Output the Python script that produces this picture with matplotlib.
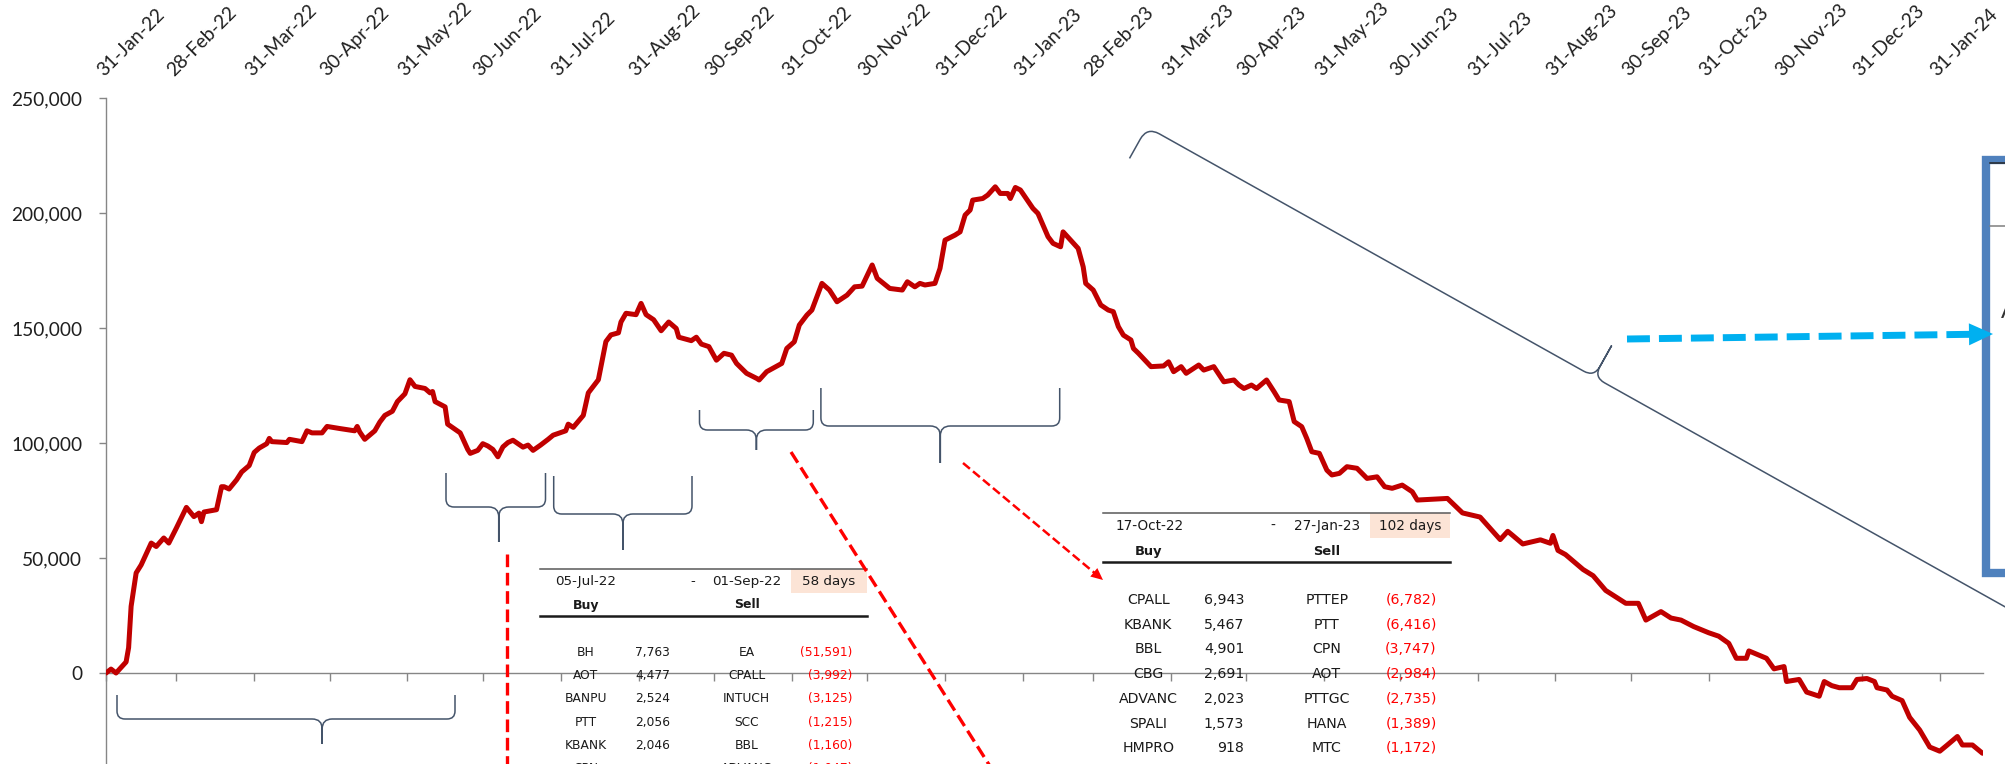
import numpy as np
import pandas as pd
import matplotlib
matplotlib.use('Agg')
import matplotlib.pyplot as plt
import matplotlib.dates as mdates
from matplotlib.path import Path
from matplotlib.patches import PathPatch, Rectangle, Polygon
from matplotlib.lines import Line2D
from matplotlib.transforms import Affine2D
from matplotlib.ticker import FixedLocator, FuncFormatter

# cumulative net flow: days after 31-Jan-22 and value (thousands)
start_date = pd.Timestamp('2022-01-31')
day_offsets = [
    0, 2, 4, 8, 9, 10, 12, 14, 18, 20, 23, 25, 28, 32, 35, 37, 38, 39, 44, 46, 47, 49, 52,
    54, 57, 59, 61, 64, 65, 66, 72, 73, 78, 80, 82, 86, 88, 93, 99, 100, 101, 103, 107, 109,
    111, 114, 116, 119, 121, 123, 127, 129, 130, 131, 135, 136, 141, 144, 145, 148, 150, 152,
    154, 156, 158, 160, 162, 166, 168, 170, 173, 176, 178, 183, 184, 186, 190, 192, 196, 199,
    201, 204, 205, 207, 211, 213, 215, 218, 221, 224, 227, 228, 233, 235,
    237, 240, 243, 246, 249, 251, 255, 259, 260, 263, 269, 271, 274, 276, 279, 281, 283, 285,
    288, 291, 295, 298, 301, 305, 307, 312, 317, 319, 322, 324, 326, 330, 332, 334, 338, 340,
    342, 344, 345, 349, 351, 354, 356, 359, 360, 362, 364, 369, 371, 375, 377, 380, 381, 384,
    387, 389, 390, 393, 396, 399, 401, 403, 405, 408, 409, 411, 416, 421, 423, 425, 428, 430,
    435, 437, 441, 445, 449, 451, 453, 456, 458, 462, 465, 467, 471, 473, 476, 478, 480, 483,
    486, 488, 491, 494, 498, 502, 506, 509, 512, 516, 520, 522, 534, 540, 547, 555,
    558, 560, 564, 571, 575, 576, 578, 581, 585, 588, 592, 597, 601, 605, 610, 613, 619, 623,
    627, 632, 638, 642, 646, 649, 653, 654, 661, 664, 668, 669, 674, 677, 682, 684, 687, 690,
    695, 697, 701, 704, 705, 709, 711, 715, 718, 722, 726, 730, 733, 737, 739, 743, 747]
net_flow_k = [
    0, 1.7, 0, 4.8, 11, 29, 43.5, 47, 56.5, 55, 58.7, 56.5, 63, 72, 68, 69.5, 65.8, 70, 71, 81, 81, 80, 84,
    87.4, 90.2, 95.9, 97.8, 99.7, 102, 100.6, 100.2, 101.6, 100.6, 105.3, 104.4, 104.4, 107.2, 106.3,
    105.3, 107.2, 104.8, 101.6, 105.3, 109.1, 112, 113.8, 118, 121.4, 127.5, 124.6, 123.7, 121.8, 122.4,
    118, 115.7, 108.2, 104.4, 97.2, 95.5, 96.8, 99.7, 98.7, 97.2, 94, 98.3, 100.2, 101.2, 98.2, 99.1,
    96.8, 99.1, 101.6, 103.4, 105.3, 108.2, 106.8, 112, 121.8, 127.5, 144.1, 147, 147.9, 152.6, 156.4,
    155.8, 160.7, 155.8, 153.6, 148.8, 152.6, 149.8, 146, 144.5, 146,
    143, 141.9, 136, 139, 138.2, 134.6, 130.3, 128.1, 127.4, 131, 134.6, 141.1, 144, 151.3, 155.6,
    157.8, 163.6, 169.4, 166.5, 161.4, 164.3, 167.9, 168.2, 177.4, 171.6, 167.2, 166.5, 170.1, 167.9,
    169.4, 168.7, 169.4, 175.9, 188.2, 190.4, 191.8, 199.1, 201.3, 205.6, 206.3, 207.8, 211.4, 208.5,
    208.5, 206.3, 211.1, 210, 202, 199.8, 189.7, 186.8, 185.3, 191.8, 188.2, 184.6, 176.6, 169.4,
    166.5, 160, 157.8, 157.1, 150.6, 146.9, 144.8, 141.1, 139, 133.2, 133.5, 135.3, 131, 133.2, 130.3,
    133.9, 131.7, 133.2, 126.6, 127.4, 125.2, 123.7, 125.2, 123.7, 127.4, 122.3, 118.7, 118, 109.3,
    107.1, 102, 96.2, 95.5, 88.2, 86.1, 86.8, 89.7, 89, 84.6, 85.3, 81, 80.3, 81.7, 78.8, 75.2, 75.9,
    69.6, 67.8, 58,
    61.6, 59.8, 56.1, 57.9, 56.4, 59.8, 53.3, 51.5, 47.8, 45, 42.3, 35.9, 33.1, 30.3, 30.3, 23, 26.7,
    23.9, 23, 20.2, 17.5, 16, 12.9, 6.4, 6.4, 9.6, 6.4, 1.8, 2.8, -3.7, -2.8, -8.3, -10.1, -3.7, -5.5,
    -6.4, -6.4, -2.8, -2.4, -3.7, -6.4, -7.4, -10.1, -12, -19.3, -24.8, -32.2, -34, -31.3, -27.6,
    -31.3, -31.3, -34.9]
month_ends = pd.date_range('2022-01-31', '2024-01-31', freq='ME')
y_ticks = [0, 50000, 100000, 150000, 200000, 250000]

# the two buy / sell tables
t1_period = ['05-Jul-22', '-', '01-Sep-22', '58 days']
t1_buy = ['BH', 'AOT', 'BANPU', 'PTT', 'KBANK', 'CPN']
t1_buy_val = [7763, 4477, 2524, 2056, 2046, None]
t1_sell = ['EA', 'CPALL', 'INTUCH', 'SCC', 'BBL', 'ADVANC']
t1_sell_val = [-51591, -3992, -3125, -1215, -1160, -1047]

t2_period = ['17-Oct-22', '-', '27-Jan-23', '102 days']
t2_buy = ['CPALL', 'KBANK', 'BBL', 'CBG', 'ADVANC', 'SPALI', 'HMPRO']
t2_buy_val = [6943, 5467, 4901, 2691, 2023, 1573, 918]
t2_sell = ['PTTEP', 'PTT', 'CPN', 'AOT', 'PTTGC', 'HANA', 'MTC']
t2_sell_val = [-6782, -6416, -3747, -2984, -2735, -1389, -1172]

plt.rcParams['font.family'] = ['Lato', 'DejaVu Sans']
axis_gray = '#868686'
brace_color = '#44546A'

W, H = 2005, 764
fig = plt.figure(figsize=(W / 100, H / 100), dpi=100)
ax = fig.add_axes([106 / W, 0, (1983 - 106) / W, (H - 98) / H])
# pixel coords of the picture (y down) for the hand placed shapes
pix = Affine2D().scale(1 / W, -1 / H).translate(0, 1) + fig.transFigure

dates = start_date + pd.to_timedelta(day_offsets, unit='D')
ax.plot(mdates.date2num(dates), np.array(net_flow_k) * 1000, color='#C00000', lw=3.6,
        solid_joinstyle='round', solid_capstyle='round', zorder=5)

for s in ['top', 'right']:
    ax.spines[s].set_visible(False)
ax.spines['bottom'].set_position(('data', 0))
for s in ['bottom', 'left']:
    ax.spines[s].set_color(axis_gray)
    ax.spines[s].set_linewidth(1)

ax.xaxis.set_major_locator(FixedLocator(mdates.date2num(month_ends)))
ax.xaxis.set_major_formatter(mdates.DateFormatter('%d-%b-%y'))
ax.tick_params(axis='x', bottom=True, top=False, labelbottom=False, labeltop=True,
               direction='out', length=5.5, width=1, color=axis_gray, pad=8,
               labelsize=13.8, labelcolor='#1f1f1f', labelrotation=45)
for lab in ax.get_xticklabels():
    lab.set_ha('left')
    lab.set_va('bottom')
    lab.set_rotation_mode('anchor')

ax.set_yticks(y_ticks)
ax.yaxis.set_major_formatter(FuncFormatter(lambda v, p: f'{v:,.0f}'))
ax.tick_params(axis='y', direction='out', length=5, width=1, color=axis_gray, pad=12,
               labelsize=13.8, labelcolor='#1f1f1f')

x0 = mdates.date2num(start_date)
ax.set_xlim(x0, x0 + 747.2)
ax.set_ylim(-39565, 250000)


def brace(p0, p1, depth, tip, frac=0.5, side=1, r=8, rt=10):
    p0 = np.asarray(p0, float)
    p1 = np.asarray(p1, float)
    L = np.hypot(*(p1 - p0))
    t = (p1 - p0) / L
    n = side * np.array([-t[1], t[0]])
    a = p0 + n * depth
    b = p1 + n * depth
    m = p0 + t * L * frac + n * depth
    verts = [p0, p0 + n * (depth - r), a, a + t * r,
             m - t * rt, m, m + n * rt, m + n * tip,
             m + n * rt, m, m + t * rt,
             b - t * r, b, p1 + n * (depth - r), p1]
    codes = [Path.MOVETO, Path.LINETO, Path.CURVE3, Path.CURVE3,
             Path.LINETO, Path.CURVE3, Path.CURVE3, Path.LINETO,
             Path.LINETO, Path.CURVE3, Path.CURVE3,
             Path.LINETO, Path.CURVE3, Path.CURVE3, Path.LINETO]
    ax.add_patch(PathPatch(Path(verts, codes), fill=False, ec=brace_color, lw=1.1,
                           transform=pix, clip_on=False, zorder=4))


brace((117, 695), (455, 695), 24, 25, frac=0.607)
brace((446, 473), (545.5, 473), 34, 35, frac=0.53)
brace((553.7, 476), (692, 476), 38, 36)
brace((699.5, 410), (813.3, 410), 20, 20)
brace((820.9, 388), (1059.7, 388), 38, 37)
brace((1129.5, 158.4), (2023.5, 658.4), 36, 36, side=-1, r=14, rt=12)


def dashed(p0, p1, color, lw, dash, head=None):
    p0 = np.asarray(p0, float)
    p1 = np.asarray(p1, float)
    end = p1
    if head is not None:
        hl, hw = head
        u = (p1 - p0) / np.hypot(*(p1 - p0))
        v = np.array([-u[1], u[0]])
        end = p1 - u * hl * 0.8
        base = p1 - u * hl
        ax.add_patch(Polygon([p1, base + v * hw / 2, base - v * hw / 2], closed=True,
                             fc=color, ec='none', transform=pix, clip_on=False, zorder=7))
    ax.add_line(Line2D([p0[0], end[0]], [p0[1], end[1]], color=color, lw=lw,
                       linestyle=(0, dash), dash_capstyle='butt', transform=pix,
                       clip_on=False, zorder=6))


# right hand call-out box (cut by the picture edge)
ax.add_patch(Rectangle((1986, 160), 100, 413, fc='white', ec='#4F81BD', lw=6,
                       transform=pix, clip_on=False, zorder=6))
ax.add_line(Line2D([1990, 2010], [163, 163], color='#262626', lw=1.1, transform=pix,
                   clip_on=False, zorder=6))
ax.add_line(Line2D([1990, 2010], [225.7, 225.7], color='#7f7f7f', lw=1.1, transform=pix,
                   clip_on=False, zorder=6))
ax.text(2001, 312, 'A', fontsize=17, color='#333333', ha='left', va='center',
        transform=pix, clip_on=False, zorder=6)

dashed((507, 554), (507, 775), '#FF0000', 2.4, (3.8, 1.7))
dashed((791, 452), (1000, 782), '#FF0000', 2.4, (3.8, 1.7))
dashed((963, 463), (1103, 580), '#FF0000', 1.8, (3.6, 1.6), head=(12, 11))
dashed((1627, 339), (1993, 334), '#00B0F0', 5, (3.3, 1.3), head=(24, 22))


def table(lay, period, buy, buy_val, sell, sell_val):
    xl, xr = lay['rule_x']
    ax.add_patch(Rectangle((lay['peach'][0], lay['peach'][2]), lay['peach'][1] - lay['peach'][0],
                           lay['peach'][3] - lay['peach'][2], fc='#FCE4D6', ec='none',
                           transform=pix, clip_on=False, zorder=3))
    ax.add_line(Line2D([xl, xr], [lay['top'], lay['top']], color='#595959', lw=1.1,
                       transform=pix, clip_on=False, zorder=3))
    ax.add_line(Line2D([xl, xr], [lay['bot'], lay['bot']], color='#1a1a1a', lw=1.8,
                       transform=pix, clip_on=False, zorder=3))
    kw = dict(family='DejaVu Sans', color='#1a1a1a', va='center', ha='center',
              transform=pix, clip_on=False, zorder=3)
    for x, s in zip(lay['head_x'], period):
        ax.text(x, lay['head_y'], s, fontsize=lay['fs_head'], **kw)
    ax.text(lay['cols'][0], lay['sub_y'], 'Buy', fontsize=lay['fs_bold'], weight='bold', **kw)
    ax.text(lay['cols'][2], lay['sub_y'], 'Sell', fontsize=lay['fs_bold'], weight='bold', **kw)
    kw.pop('ha')
    for i in range(len(buy)):
        y = lay['row0'] + i * lay['step']
        ax.text(lay['cols'][0], y, buy[i], fontsize=lay['fs_row'], ha='center', **kw)
        if buy_val[i] is not None:
            ax.text(lay['cols'][1], y, f'{buy_val[i]:,}', fontsize=lay['fs_row'], ha='right', **kw)
        ax.text(lay['cols'][2], y, sell[i], fontsize=lay['fs_row'], ha='center', **kw)
        kw_red = dict(kw, color='#FF0000')
        ax.text(lay['cols'][3], y, f'({-sell_val[i]:,})', fontsize=lay['fs_row'], ha='right', **kw_red)


table(dict(rule_x=(540, 866.7), top=569.3, bot=616, peach=(790.7, 866.7, 569.3, 592.7),
           head_x=(586, 692.7, 746.7, 829), head_y=581.7, sub_y=605,
           row0=652.3, step=23.3, cols=(586, 670, 746.7, 852.7),
           fs_head=9.7, fs_bold=9, fs_row=8.8),
      t1_period, t1_buy, t1_buy_val, t1_sell, t1_sell_val)
table(dict(rule_x=(1103.3, 1450), top=512.7, bot=561.7, peach=(1370, 1450, 513.3, 538.3),
           head_x=(1150, 1272.7, 1326.7, 1410.7), head_y=526, sub_y=551.7,
           row0=600, step=24.7, cols=(1148.3, 1244.3, 1326.7, 1436.7),
           fs_head=9.8, fs_bold=9.4, fs_row=10.2),
      t2_period, t2_buy, t2_buy_val, t2_sell, t2_sell_val)

plt.savefig('out.png', dpi=100)
